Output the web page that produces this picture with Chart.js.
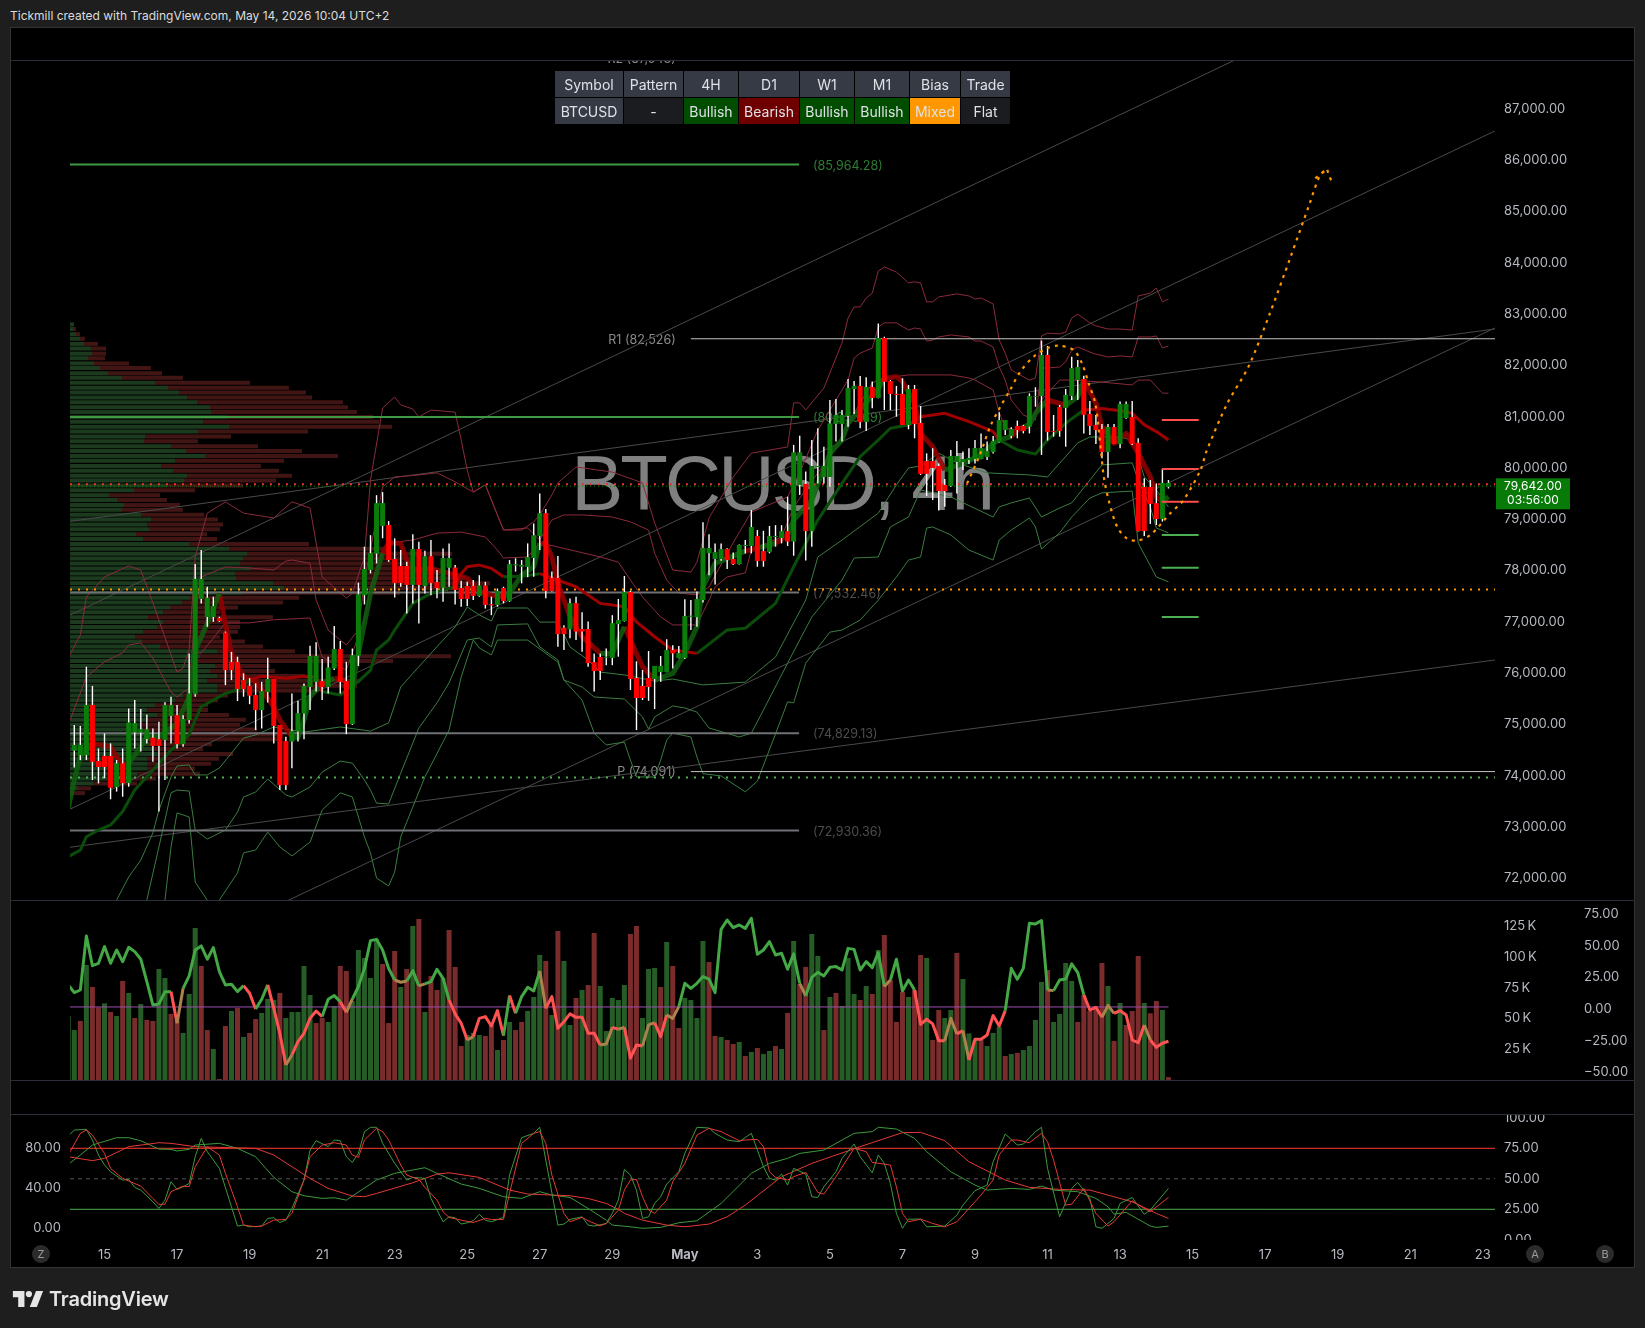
<!DOCTYPE html>
<html>
<head>
<meta charset="utf-8">
<title>BTCUSD 4h</title>
<script src="https://cdn.jsdelivr.net/npm/chart.js@4/dist/chart.umd.js"></script>
<style>
  html, body { margin: 0; padding: 0; background: #1e1e1e; width: 1645px; height: 1328px; overflow: hidden; font-family: Inter, sans-serif; }
  #header { position: absolute; left: 10px; top: 8px; font-size: 12px; line-height: 16px; color: #dcdcdc; }
  #frame { position: absolute; left: 10px; top: 27px; width: 1625px; height: 1241px; background: #000; box-sizing: border-box; border: 1px solid #333; }
  canvas { position: absolute; left: 11px; }
  .sep { position: absolute; left: 11px; width: 1624px; height: 1px; background: #2a2e39; }
  #summary { position: absolute; left: 554px; top: 70px; border-spacing: 1px; border-collapse: separate; font-size: 14px; color: #dfe1e6; text-align: center; }
  #summary td { height: 26px; padding: 0; }
  .badge { position: absolute; top: 1245px; width: 18px; height: 18px; border-radius: 50%; background: #2b2b2b; color: #9a9a9a; font-size: 11px; line-height: 18px; text-align: center; }
  #logo { position: absolute; left: 12px; top: 1287px; display: flex; align-items: center; color: #e6e6e6; font-size: 20px; font-weight: 600; letter-spacing: -0.2px; }
  #logo svg { width: 32px; height: 22px; margin-right: 5px; }
</style>
</head>
<body>
<div id="header">Tickmill created with TradingView.com, May 14, 2026 10:04 UTC+2</div>
<div id="frame"></div>
<canvas id="mainChart" width="1624" height="840" style="top:60px"></canvas>
<canvas id="volumeChart" width="1624" height="180" style="top:900px"></canvas>
<canvas id="stochChart" width="1624" height="126" style="top:1114px"></canvas>
<canvas id="timeChart" width="1624" height="28" style="top:1240px"></canvas>
<div class="sep" style="top:60px"></div>
<div class="sep" style="top:900px"></div>
<div class="sep" style="top:1080px"></div>
<div class="sep" style="top:1114px"></div>
<table id="summary"></table>
<div class="badge" style="left:32px">Z</div>
<div class="badge" style="left:1526px">A</div>
<div class="badge" style="left:1596px">B</div>
<div id="logo"><svg viewBox="0 0 36 24" fill="#e6e6e6"><path d="M14 3H1v7h6v11h7V3Zm14 18h-8l7-18h8l-7 18Zm-9-11a3.500 3.500 0 1 0 0-7 3.500 3.500 0 0 0 0 7Z"/></svg>TradingView</div>

<script>
const X_MIN = -0.71;
const X_MAX = 235.02;
const FONT = 'Inter';

const opens = [74450,74360,74360,75340,74245,74345,74345,73740,74200,73815,74805,74800,74675,74700,74670,74655,75125,75140,74575,75045,75550,77405,77055,77055,77035,76750,76175,76175,75825,75710,75535,75240,75590,75845,74950,74635,74625,74820,75170,75690,75790,75805,75690,76050,76430,75805,74965,76300,77480,77970,78290,78830,78850,78185,78050,78050,77680,78380,77660,78240,77735,77625,78015,78020,77620,77660,77660,77465,77670,77305,77290,77620,77365,78060,78035,78030,78205,78635,79080,77815,77815,76845,76815,77325,76820,76820,76175,76275,76260,76255,76915,76975,77540,75865,75710,75865,75845,75980,75980,76410,76255,76255,77060,77050,77385,78300,78185,78185,78380,78185,78085,78440,78440,78635,78340,78320,78615,78595,78730,78525,79630,79650,78730,79980,79785,79785,80820,80820,80975,81500,81560,80855,81540,81325,82495,81655,81405,81405,80800,81500,80840,80095,80095,80000,79630,79610,80075,80075,80115,80135,80135,80175,80270,80465,80700,80585,80780,80780,80765,81350,81365,82165,80680,81150,81130,81365,81675,81695,81015,80800,80720,80270,80760,80430,80935,80955,80450,79590,79590,79275,78965,79590];
const closes = [74560,74560,75340,74230,74130,74130,73725,74200,73815,75000,74985,74865,74865,74540,74540,75340,75340,74575,75065,75565,77795,77795,77430,77270,76975,76020,76020,75650,75650,75520,75240,75610,75845,74930,73775,73775,74830,75180,75710,76295,76295,75690,76070,76430,75790,74965,76310,77500,77990,78300,79275,79275,78165,77715,77715,77680,78380,77680,78240,77715,77620,78205,78205,77580,77405,77405,77465,77670,77290,77280,77560,77365,78085,78085,78070,78225,78650,79080,77560,77560,76720,76720,77325,76770,76770,76155,76000,76000,76280,76935,76995,77540,75845,75475,75475,75690,76100,76100,76410,76345,76350,77075,77080,77405,78400,78400,78320,78380,78165,78085,78460,78460,78810,78145,78145,78635,78635,78730,78525,80265,80265,78730,80000,80000,80000,80830,80995,80995,81520,81560,80855,81540,81325,82495,81640,81405,81385,80800,81500,80820,79845,79845,79960,79510,79510,80195,80195,80135,80155,80350,80350,80290,80485,80895,80895,80720,80700,80680,81365,81365,82165,80660,80660,80680,81385,81910,81930,80995,80780,80700,80270,80760,80430,81210,81210,80430,78730,78730,79260,78965,79670,79670];
const highs = [74950,74930,76085,75710,74490,74785,74590,74265,74490,75270,75435,75260,75155,74880,75010,75390,75500,75340,75140,76345,78090,78360,77645,77450,77060,76770,76375,76280,75955,75860,75760,75790,76260,75845,74950,74720,75565,75420,75760,76495,76560,76235,76280,76880,76585,76180,76440,77725,78425,78650,79430,79490,78925,78590,78360,78130,78670,78520,78345,78555,77970,78390,78490,78070,77760,77740,77775,77870,77740,77450,77610,77645,78165,78200,78165,78490,78880,79465,79160,77940,78245,76895,77415,77450,77145,76965,76345,76345,76440,77090,77405,77855,77565,76190,76020,76390,76100,76295,76620,76505,76490,77400,77385,77550,78900,78670,78490,78490,78395,78310,78470,78555,79140,78750,78735,78830,78845,78845,79400,80410,80590,79890,80505,80735,80375,81285,81305,81090,81695,81655,81755,81730,81645,82780,82520,81675,81560,81710,81580,81580,81170,80245,80345,80050,79745,80310,80485,80280,80345,80505,80635,80475,80585,81045,80895,80755,80885,80800,81415,81535,82445,82340,80995,81190,81500,82130,82065,81760,81265,80995,80820,80820,80820,81255,81255,81265,80540,79760,79725,79660,79940,79725];
const lows = [74120,74265,74265,73875,73810,73910,73500,73650,73550,73745,74490,74430,74590,74230,73260,73875,74590,74490,74525,74980,75500,77320,76865,76960,76960,75725,75825,75415,75500,75355,74850,74880,75385,74590,73680,73680,74105,74625,74670,75240,75600,75435,75565,76020,75565,74770,74950,76100,77300,77905,78100,78590,78130,77435,77645,77125,77320,76930,77515,77480,77420,77350,77645,77300,77255,77270,77385,77450,77220,77090,77255,77320,77350,77940,77710,77830,77840,78360,77420,77550,76475,76410,76640,76605,76375,76085,75600,75825,76115,76115,76280,76965,75630,74850,75435,75420,75260,75790,75975,76050,76250,76235,76800,76865,77335,77870,77690,78150,77990,78070,78080,78295,78295,78035,78035,78295,78425,78490,78440,78250,79435,78155,78425,79660,79660,79595,80475,80475,80765,81015,80735,80680,81125,81320,81090,81090,80960,80800,80715,80540,79825,79415,79335,79130,79205,79595,79465,79920,80040,80050,80130,80115,80245,80455,80605,80540,80540,80635,80635,81155,80215,80495,80570,80570,80375,81285,81285,80635,80605,80430,80150,79770,80430,80345,80920,80410,78720,78635,78870,78850,78915,79560];

const upperBand3 = [[-1,76255],[1,76705],[2,77445],[5,77835],[9,78050],[11,77970],[13,77330],[17,75980],[18,76060],[19,76410],[20,78225],[22,79080],[25,79300],[28,79080],[33,78985],[36,79300],[39,79180],[41,77835],[45,77425],[46,77520],[48,78225],[49,79725],[51,81130],[53,81345],[54,81190],[56,81110],[57,80955],[59,81090],[63,81050],[64,80505],[65,79920],[66,79490],[68,79630],[71,78750],[74,78750],[76,78910],[77,79045],[79,79435],[80,79670],[83,79980],[89,79880],[94,79670],[96,78890],[99,77970],[102,77930],[103,78125],[105,78985],[109,79785],[112,80250],[118,80370],[119,81230],[120,81230],[121,81090],[124,81520],[127,82400],[128,82885],[129,83100],[130,83100],[131,83275],[132,83370],[133,83800],[134,83880],[136,83780],[138,83570],[139,83590],[140,83570],[141,83200],[142,83200],[143,83295],[146,83355],[148,83315],[149,83255],[150,83275],[152,83160],[153,82455],[154,82200],[155,81870],[158,81675],[159,81715],[160,82535],[161,82590],[163,82575],[164,82610],[165,82885],[166,82960],[168,82790],[169,82730],[171,82670],[173,82670],[175,82650],[176,83315],[178,83370],[179,83470],[180,83200],[181,83255]];
const upperBand2 = [[-1,74950],[2,75885],[5,76180],[8,76355],[9,76510],[11,76550],[13,76255],[16,75590],[17,75495],[19,75670],[20,77135],[21,77835],[25,78030],[29,78010],[33,77970],[35,78145],[36,78165],[39,78105],[40,77385],[42,76800],[45,76510],[47,76800],[48,77775],[51,79590],[53,79785],[57,79825],[60,79865],[63,79690],[66,79490],[68,79630],[71,78750],[75,78790],[77,78555],[79,78945],[81,79045],[84,79045],[89,79005],[92,78910],[95,78750],[96,78300],[98,77775],[100,77520],[103,77485],[105,77640],[108,78300],[111,78905],[112,79100],[118,79395],[120,79865],[123,80700],[128,81675],[129,82105],[130,82200],[132,82300],[133,82710],[134,82790],[136,82790],[138,82650],[139,82690],[140,82670],[141,82435],[142,82455],[143,82515],[145,82555],[148,82515],[149,82435],[150,82435],[152,82320],[153,81930],[154,81675],[155,81285],[157,80995],[159,80895],[160,81910],[161,81910],[163,81930],[164,82030],[165,82260],[166,82320],[168,82220],[169,82180],[171,82125],[173,82145],[175,82125],[176,82515],[178,82515],[179,82535],[180,82300],[181,82340]];
const upperBand1 = [[19,75670],[20,76360],[21,76350],[25,76940],[29,76940],[33,77000],[39,77035],[41,76275],[45,76020],[46,76350],[48,77000],[49,77640],[51,78325],[53,78515],[56,78555],[60,78690],[64,78710],[68,78615],[70,78360],[71,78205],[75,78225],[77,78500],[80,78420],[87,78225],[90,78125],[92,77775],[94,77445],[97,77055],[99,76900],[103,76900],[105,77385],[106,77640],[108,77835],[111,77915],[112,78360],[117,78615],[119,79200],[123,79865],[127,80505],[129,81030],[132,81620],[134,81715],[138,81775],[141,81775],[145,81775],[148,81715],[149,81675],[152,81480],[153,81050],[154,80740],[156,80700],[158,80740],[159,81090],[160,81285],[163,81675],[165,81675],[170,81635],[175,81580],[176,81675],[178,81675],[180,81420],[181,81420]];
const lowerBand1 = [[7,71535],[9,71985],[11,72315],[13,72845],[14,73290],[16,73935],[17,74150],[19,74170],[20,73975],[22,73975],[24,74110],[26,74400],[28,74695],[30,74755],[33,74910],[36,74850],[38,74810],[44,74910],[49,74830],[52,74990],[54,75690],[58,76215],[61,76605],[63,76860],[65,77250],[67,77095],[69,76975],[70,77230],[75,77230],[77,76955],[80,76955],[82,76470],[85,76215],[87,75980],[91,75925],[96,75805],[99,75845],[104,75730],[111,75785],[116,76275],[121,77385],[123,78225],[127,78555],[133,79080],[136,79630],[138,79960],[140,80000],[143,80250],[146,80060],[151,79865],[158,79825],[161,79785],[162,79920],[166,80450],[168,80565],[173,80565],[175,80505],[176,80175],[177,79785],[179,79530],[181,79200]];
const lowerBand2 = [[12,71535],[14,72570],[16,73625],[17,73680],[19,73660],[20,72900],[22,72725],[25,72900],[27,73250],[28,73545],[30,73640],[32,73895],[35,73585],[36,73545],[39,73740],[41,74030],[44,74245],[46,74205],[48,73875],[49,73680],[50,73425],[52,73410],[54,74010],[57,74890],[60,75380],[62,75770],[65,76605],[67,76645],[69,76470],[70,76900],[75,76920],[77,76470],[80,76215],[81,75825],[84,75690],[86,75495],[91,75455],[94,75105],[95,74870],[96,75105],[99,75320],[101,75280],[103,75200],[105,74890],[110,74715],[112,74790],[114,75240],[118,76155],[122,77055],[127,77775],[129,78205],[133,78225],[135,78810],[138,79005],[140,79530],[145,79395],[152,79005],[153,79200],[155,79280],[158,79375],[160,79005],[163,79180],[165,79280],[170,80020],[175,80060],[176,79725],[178,79200],[179,78790],[181,78695]];
const lowerBand3 = [[15,71535],[16,72570],[17,73235],[19,73155],[20,71885],[22,71535],[23,71245],[24,71535],[27,72065],[28,72455],[30,72510],[32,72860],[34,72570],[36,72395],[39,72665],[41,73290],[44,73625],[46,73545],[48,72765],[49,72455],[50,71965],[52,71810],[53,72080],[54,72765],[58,73935],[62,74850],[64,75885],[66,76605],[67,76450],[69,76315],[70,76605],[75,76605],[80,76175],[81,75825],[84,75435],[86,74790],[88,74560],[91,74615],[92,74265],[93,73935],[96,73935],[97,74265],[98,74655],[99,74790],[102,74715],[103,74325],[104,74000],[107,73955],[111,73645],[113,73855],[116,74775],[118,75400],[119,75380],[121,76155],[125,76760],[127,76800],[130,76995],[133,77385],[136,77835],[138,78165],[140,78225],[141,78790],[142,78810],[145,78655],[148,78360],[152,78165],[153,78555],[155,78750],[158,78985],[159,78810],[160,78380],[163,78695],[165,79005],[168,79375],[170,79475],[175,79510],[176,78495],[179,77835],[181,77740]];

const slowMaUp = [[-1,72380],[1,72510],[2,72770],[4,72900],[6,73000],[8,73260],[10,73680],[13,74070],[16,74460],[19,74755],[20,75045],[21,75305],[25,75565],[27,75630],[29,75830],[29,null],[41,75600],[44,75534],[45,75630],[47,75794],[49,76020],[50,76410],[52,76606],[53,76800],[56,77320],[59,77515],[63,77645],[63,null],[71,77840],[74,77850],[77,77900],[77,null],[103,76345],[108,76800],[111,76835],[116,77320],[119,78035],[123,78945],[127,79660],[130,80180],[133,80506],[135,80735],[138,80800],[138,null],[153,80506],[156,80311],[159,80233],[161,80506],[164,80831],[167,81091]];
const slowMaDown = [[29,75830],[31,75900],[35,75860],[38,75900],[40,75880],[41,75600],[41,null],[63,77645],[64,77900],[65,78035],[67,78067],[69,78002],[71,77840],[71,null],[77,77900],[80,77775],[83,77645],[87,77320],[91,77255],[93,76960],[96,76670],[99,76410],[103,76345],[103,null],[138,80800],[140,80960],[144,81026],[148,80863],[152,80668],[153,80506],[153,null],[167,81091],[170,81120],[173,81078],[175,81026],[177,80800],[179,80670],[181,80506]];
const fastMaUp = [[-1,73322],[0,73875],[1,74330],[3,74590],[3,null],[9,74200],[11,74525],[12,74720],[14,74720],[17,74980],[19,75500],[20,76400],[22,76930],[24,77515],[24,null],[36,74720],[37,74700],[38,75045],[39,75500],[41,75760],[43,75860],[43,null],[46,75700],[47,76345],[49,77515],[51,78295],[51,null],[71,77450],[72,77515],[74,77870],[76,78035],[77,78490],[77,null],[87,76345],[89,76345],[91,76865],[91,null],[96,75825],[99,75955],[101,76345],[103,76865],[104,77645],[106,78100],[111,78340],[111,null],[113,78400],[116,78491],[116,null],[118,78653],[119,78946],[122,79336],[125,80246],[127,80506],[128,80831],[133,81500],[134,81708],[134,null],[144,79921],[147,80050],[150,80211],[152,80441],[153,80506],[155,80571],[155,null],[157,80766],[158,80800],[159,81026],[161,81286],[161,null],[164,81180],[166,81350],[167,81676],[167,null],[180,79300],[181,79400]];
const fastMaDown = [[3,74590],[6,74525],[7,74330],[8,74200],[9,74200],[9,null],[24,77515],[25,76930],[26,76345],[28,75890],[30,75790],[31,75630],[33,75305],[34,75045],[36,74720],[36,null],[43,75860],[45,75800],[46,75700],[46,null],[51,78295],[52,78500],[54,78490],[55,78165],[56,77970],[59,78000],[62,77905],[64,77840],[65,77810],[67,77550],[69,77480],[71,77450],[71,null],[77,78490],[78,78490],[79,78230],[80,77710],[82,77060],[84,76670],[87,76345],[87,null],[91,76865],[94,76085],[96,75825],[96,null],[111,78340],[113,78400],[113,null],[116,78491],[118,78653],[118,null],[134,81708],[136,81741],[137,81643],[139,81221],[140,80636],[142,80376],[144,79921],[144,null],[155,80571],[156,80700],[157,80766],[157,null],[161,81286],[163,81221],[164,81180],[164,null],[167,81676],[169,81221],[170,80766],[172,80441],[174,80636],[175,80441],[176,80246],[178,79791],[179,79400],[180,79300]];

const profileRows = [82760,82670,82570,82480,82380,82290,82190,82100,82000,81910,81810,81720,81620,81525,81430,81335,81240,81145,81050,80955,80860,80765,80670,80575,80480,80385,80290,80195,80100,80000,79905,79810,79715,79620,79525,79430,79335,79240,79145,79050,78955,78860,78765,78670,78575,78480,78385,78290,78195,78100,78000,77905,77810,77715,77620,77525,77430,77335,77240,77145,77050,76955,76860,76765,76670,76575,76480,76385,76290,76195,76100,76000,75905,75810,75715,75620,75525,75430,75335,75240,75145,75050,74955,74860,74765,74670,74575,74480,74385,74290,74195,74100,74000,73905,73810,73715,73620];
const profileBuy = [4,3,6,10,14,21,22,18,24,30,38,52,85,98,109,117,127,140,141,157,133,159,128,75,74,101,116,135,105,91,103,117,114,97,64,39,47,54,52,71,81,77,79,66,73,119,159,177,173,170,181,165,166,203,214,172,120,112,100,93,78,93,87,73,65,72,90,147,130,127,145,140,147,137,147,147,113,105,85,77,87,77,70,73,90,80,83,83,87,77,77,77,67,63,23,8,3];
const profileTotal = [4,6,10,15,28,36,36,35,59,81,92,113,180,219,236,242,273,278,287,303,309,322,238,161,128,188,232,268,214,191,209,222,206,173,125,90,97,110,113,134,148,153,150,137,147,239,320,382,340,345,350,370,395,420,410,330,229,213,168,150,203,170,170,168,150,175,193,225,381,323,200,205,235,290,287,248,158,148,138,138,159,176,170,187,213,210,142,133,163,149,141,125,130,86,67,21,15];

const trendLines = [
    [[-1,77075],[192,87916]],
    [[-1,78915],[235,82671]],
    [[-1,73290],[235,86532]],
    [[32,71340],[235,82690]],
    [[-1,72560],[235,76216]]
];
const forecastPath = [[147.7,79660],[149.9,80246],[151.5,80766],[153.2,81156],[154.8,81481],[156.5,81840],[158.7,82131],[160.9,82293],[162.8,82345],[165.3,82261],[166.7,82001],[167.8,81611],[168.9,81221],[169.7,80441],[170.3,79791],[171.1,79336],[172.5,78816],[174.1,78588],[175.8,78543],[178,78653],[181.3,79076],[183.5,79336],[186.3,79921],[187.3,80290],[190.7,81210],[194.2,81927],[197.7,82950],[201.2,84075],[204.3,85097],[206,85650],[207.2,85793]];
const forecastArrow = [[205.3,85609],[207.2,85793],[208.1,85507]];

const priceTicks = [72000,73000,74000,75000,76000,77000,78000,79000,80000,81000,82000,83000,84000,85000,86000,87000];
const shortLevelsRed = [80896,79940,79304];
const shortLevelsGreen = [78653,78016,77054];
const lastPrice = 79642;

const volumes = [52,40.6,48,93.5,75.6,59,62.3,55.3,52,80.5,70.7,50.4,61.8,48.8,48,90.2,82.9,53.7,48.8,38.2,69.9,123.6,92.7,40.6,25.2,0.8,43.9,56.1,58.5,35,38.2,49.6,54.5,65.9,65,70.7,50.4,55.3,55.3,92.7,69.1,46.3,50.4,47.2,60.2,92.7,88.6,64.2,105.7,99.2,82.9,114.6,94.3,46.3,104.9,75.6,90.2,125.2,130.9,55.3,84.6,73.2,82.9,122,91.9,27.6,36.6,38.2,36.6,35.8,44.7,24.4,32.5,47.2,40.6,47.2,56.1,67.5,101.6,96.7,52.8,121.1,96.7,44.7,66.7,73.2,77.2,119.5,76.4,39.8,66.7,65,77.2,118.7,125.2,50.4,90.2,91.1,75.6,112.2,92.7,42.3,66.7,65,50.4,113,95.9,35.8,35,32.5,29.3,30.9,19.5,22.8,26,21.1,23.6,27.6,25.2,54.5,113,78,91.9,118.7,100.8,40.6,67.5,70.7,60.2,99.2,69.9,65,76.4,69.9,105.7,117.9,81.3,47.2,71.5,67.5,73.2,101.6,99.2,32.5,56.9,50.4,56.9,103.3,82.1,37.9,32.5,32.5,27.6,38.2,43.1,19.5,21.1,22,24.4,27.6,48.8,79.7,89.4,47.2,53.7,95.1,80.5,47.2,69.1,56.1,59.6,95.1,76.4,31.7,62.6,44.7,56.1,100.8,62.6,54.2,64.2,56.9,2.4];
const volumeSides = 'GGRGRRGRGRGRGRRGGRRGGGRRGRRGRGRRGGGRGGGGGRRGGRRGGGGGRRRGRGRGRRGRRRGGGRRGRGRRGGGRGRGGRGRRGGGGGRRGGGRGRRGGGGRRGRRGRGRGGRGRGRRGGRGRGGGRGRGRRRRGRRGRRGGRGGGRGGGRGRGGGGRGGGGRRRRRGRGRRRGRRGR'.split('');
const volumeTicks = [25,50,75,100,125];

const oscillator = [17.4,11.3,13.4,56.1,32.6,34.5,47.7,34.5,45,35.8,47.1,43.7,37.7,20,1.6,2.4,12.1,12.1,-12.9,14.7,24.5,45,48.2,37.7,46.9,27.9,17.4,17.9,12.1,16.9,10.8,-1.6,6.1,17.4,-1.1,-20.8,-45.8,-37.9,-27.4,-20.8,-9,-3.2,-7.6,6.1,9,4.2,-4.2,6.3,16.1,30.5,52.4,53.4,45,30.5,21.3,19.5,20.5,28.7,16.6,18.2,20,29.8,22.6,5.5,-5.5,-12.9,-26.1,-23.4,-9,-7.6,-15,-2.9,-22.6,9,-5,8.2,15.5,12.6,28.4,-1.1,8.2,-16.9,-11.6,-5.5,-8.2,-8.2,-20.8,-20.8,-30,-29.2,-16.1,-17.6,-16.1,-40.5,-30,-30.8,-14.2,-12.4,-23.4,-6.3,-9,0.3,18.7,14.7,18.7,24,21.9,11.3,61.3,68.7,62.7,64.8,62.1,70,41.6,45,51.6,41.1,42.4,29.8,41.9,18.7,8.7,23.4,27.4,24.5,31.3,31.9,29.2,46.3,45.5,29.2,35.8,31.1,42.9,16.1,21.3,37.7,12.6,21.3,13.4,-13.7,-9.7,-13.4,-26.6,-26.6,-9,-21.3,-18.7,-41.9,-25.5,-25.5,-22.1,-6.8,-15,-2.9,30.5,21.9,30.5,66.1,65.6,68.2,13.4,12.9,21.3,22.1,34,27.1,9.5,-2.4,-0.3,-8.2,1.3,-5,-2.9,-6.3,-26.1,-28.2,-14.2,-26.1,-31.9,-28.7,-27.1];
const oscillatorFalling = [[16,17],[28,30],[32,41],[44,45],[62,71],[72,73],[77,100],[139,154],[167,181]];
const oscillatorFaded = [17,35,45,53,54,57,65,77,87,88,90,94,95,98,99,120,134,144,145,147,161,170,171,177];
const oscillatorTicks = [-50,-25,0,25,50,75];

const stochFast = [[-1,91.5],[0,97.5],[2,98.2],[3,87.6],[4,72.7],[5,62.8],[6,56.1],[8,47.9],[9,48.5],[10,40.6],[11,37.9],[13,26.3],[14,19.7],[15,28],[16,46.2],[17,38.6],[18,41.2],[19,44.5],[20,71],[21,89.2],[22,76],[24,59.4],[26,21.4],[27,2.2],[28,3.2],[29,1.5],[31,2.2],[32,9.8],[33,10.5],[34,5.8],[35,8.1],[36,19.7],[38,47.9],[39,77.6],[40,86.9],[42,81],[43,87.6],[44,86.9],[45,71],[46,65.4],[47,74.3],[48,95.9],[49,100.2],[50,100.2],[51,84.3],[53,64.4],[55,47.9],[56,50.5],[58,49.5],[59,29.7],[61,6.5],[62,11.4],[63,10.5],[64,4.2],[65,5.5],[66,7.5],[67,13.8],[68,8.1],[69,6.5],[71,10.8],[72,52.8],[74,89.9],[76,94.2],[77,100.2],[78,67.7],[80,3.2],[81,4.2],[82,8.8],[84,11.4],[85,3.2],[86,2.2],[88,4.8],[89,14.8],[90,28],[91,58.5],[92,52.8],[93,37.9],[94,9.8],[95,11.4],[96,24.7],[97,31.3],[98,43.9],[100,56.1],[101,74.3],[103,100.2],[105,99.5],[106,94.2],[108,87.6],[110,85.9],[112,94.2],[113,77.6],[114,61.1],[115,49.5],[116,47.9],[117,53.8],[118,42.9],[119,59.4],[121,53.8],[122,31.3],[123,30.6],[124,41.2],[126,56.1],[127,69.4],[129,83.6],[130,71],[132,55.1],[133,72.7],[134,64.4],[135,44.5],[136,14.8],[137,0],[138,9.1],[140,9.1],[141,1.5],[144,2.2],[146,13.1],[147,23],[149,37.3],[151,42.9],[152,66],[154,93.5],[156,82.6],[157,83.6],[159,95.9],[160,100.2],[161,59.4],[163,11.4],[165,39.6],[166,45.5],[168,29.7],[169,1.5],[170,0],[172,9.8],[173,24.7],[175,30.6],[177,13.8],[178,18.1],[181,39.6]];
const stochFastSignal = [[-1,72.7],[1,94.2],[2,97.5],[3,92.5],[5,74.3],[6,59.4],[8,49.5],[11,41.9],[13,29.6],[14,23.7],[15,24],[16,36.3],[18,41.9],[19,41.2],[20,61.1],[22,81],[24,72.7],[25,54.5],[27,21.4],[28,3.2],[30,1.5],[31,2.2],[33,8.1],[35,8.8],[36,14.8],[38,47.9],[39,71],[41,82.6],[43,84.9],[45,82.6],[46,72.7],[47,70.4],[48,87.6],[50,99.2],[51,95.9],[52,87.6],[54,62.8],[55,52.8],[57,48.5],[58,40.6],[60,28],[61,16.4],[62,10.8],[64,8.1],[66,5.8],[68,9.8],[69,8.8],[71,8.8],[72,34.6],[74,84.3],[76,94.2],[77,95.9],[78,84.3],[79,52.8],[81,14.8],[82,6.5],[84,10.8],[85,7.5],[87,2.5],[88,4.8],[90,18],[91,37.9],[92,47.9],[93,48.5],[94,31.3],[95,18.1],[96,14.8],[98,28],[99,46.2],[101,64.4],[103,92.5],[105,99.2],[107,95.9],[110,86.9],[111,87.6],[113,88.2],[114,81],[115,56.1],[116,50.5],[118,47.9],[119,51.2],[121,55.5],[123,35.6],[124,34],[126,51.2],[129,79.3],[131,76],[132,65.4],[135,62.8],[136,41.2],[137,14.8],[138,6.5],[140,9.1],[142,4.8],[144,1.5],[146,6.5],[148,19.7],[150,33],[152,47.9],[153,72.7],[155,87.6],[156,87.6],[158,84.9],[160,94.2],[161,85.9],[162,67.7],[164,23],[165,24],[167,39.6],[169,14.8],[171,2.2],[172,6.5],[175,27.3],[177,19.7],[178,16.4],[181,30.6]];
const stochSlow = [[-1,63.4],[1,72.7],[3,82.6],[7,89.9],[9,89.9],[11,86.9],[14,78.6],[16,78.3],[17,76.7],[19,78.3],[20,82.6],[24,84.3],[27,79.3],[30,71],[33,50.5],[36,36.3],[38,32.3],[41,29.7],[43,30.3],[45,28],[50,47.9],[53,54.5],[58,60.1],[60,54.5],[64,43.9],[67,39.6],[71,31.3],[74,29.7],[77,36.3],[79,33],[82,30.6],[85,19.7],[88,8.1],[89,3.2],[92,1.5],[94,0],[97,0.9],[100,5.5],[103,7.5],[107,24.7],[112,54.5],[115,64.4],[118,69.4],[120,74.3],[124,77.6],[129,94.2],[132,95.9],[133,100.2],[136,98.5],[139,89.2],[141,76],[145,56.1],[149,42.9],[151,37.9],[155,39.6],[158,38.6],[160,41.9],[162,37.9],[166,36.3],[169,29.7],[171,21.4],[172,14.1],[174,15.8],[178,2.2],[179,0.9],[181,2.2]];
const stochSlowSignal = [[-1,71],[3,67.1],[5,69.4],[9,81],[14,84.9],[16,84.3],[20,81],[24,80.3],[30,79.3],[33,72.7],[39,49.5],[42,39.6],[46,32],[48,31.3],[50,34.6],[56,45.2],[60,53.8],[62,55.1],[67,50.5],[72,38],[75,34],[82,32.3],[85,29.6],[88,24.7],[90,18.7],[91,14.8],[94,8.1],[98,3.2],[101,1.5],[105,4.2],[108,11.4],[111,23],[117,51.2],[122,64.4],[130,81],[137,94.9],[140,95.2],[144,86.9],[148,66],[154,47.9],[158,40.6],[163,38.6],[168,37.9],[170,34.6],[175,26.3],[179,14.8],[181,9.8]];
const stochLeftTicks = [0,40,80];
const stochRightTicks = [0,25,50,75,100];

const dateTickIndexes = [5,17,29,41,53,65,77,89,101,113,125,137,149,161,173,185,197,209,221,233];
const dateTickLabels = ['15','17','19','21','23','25','27','29','May','3','5','7','9','11','13','15','17','19','21','23'];

const tableHeader = ['Symbol','Pattern','4H','D1','W1','M1','Bias','Trade'];
const tableValues = ['BTCUSD','-','Bullish','Bearish','Bullish','Bullish','Mixed','Flat'];
const tableFills = ['#363a45','#1a1c20','#004d00','#6f0000','#004d00','#004d00','#ff9800','#1a1c20'];
const tableWidths = [68,59,54,60,54,54,50,49];

const supportResistance = [85880, 80955, 77532, 74790, 72890];
const levelLabels = [
    ['(85,964.28)', 85880, '#2f7d32'],
    ['(80,955.69)', 80955, '#2f7d32'],
    ['(77,532.46)', 77532, '#4d4d4d'],
    ['(74,829.13)', 74790, '#4d4d4d'],
    ['(72,930.36)', 72890, '#4d4d4d']
];
const pivotLevels = [82480, 74040];
const pivotLabels = [
    ['R2 (87,543)', 87960],
    ['R1 (82,526)', 82480],
    ['P (74,091)', 74040]
];

const CANDLE_UP = '#0a7d0a';
const CANDLE_DOWN = '#ff0000';
const BAND_RED = '#8a2a3a';
const BAND_GREEN = '#3a7d40';

Chart.defaults.font.family = FONT;
Chart.defaults.animation = false;
Chart.defaults.events = [];
Chart.defaults.plugins.legend.display = false;
Chart.defaults.plugins.tooltip.enabled = false;

function toPoints(pairs) {
    return pairs.map(p => ({ x: p[0], y: p[1] }));
}

function lineSet(pairs, color, width, extra) {
    return Object.assign({
        type: 'line',
        data: toPoints(pairs),
        borderColor: color,
        borderWidth: width,
        pointRadius: 0,
        tension: 0,
        borderJoinStyle: 'round',
        xAxisID: 'x',
        yAxisID: 'y'
    }, extra || {});
}

function barSet(points, color, thickness, extra) {
    return Object.assign({
        type: 'bar',
        data: points,
        backgroundColor: color,
        borderWidth: 0,
        grouped: false,
        inflateAmount: 0,
        barPercentage: 1,
        categoryPercentage: 1,
        maxBarThickness: thickness,
        xAxisID: 'x',
        yAxisID: 'y'
    }, extra || {});
}

function indexAxis() {
    return { type: 'linear', min: X_MIN, max: X_MAX, offset: false, display: false };
}

function fixedAxis(position, width, min, max, ticks, format, weight, labelShift) {
    return {
        type: 'linear',
        position: position,
        min: min,
        max: max,
        offset: false,
        weight: weight || 0,
        grid: { display: false, drawTicks: false },
        border: { display: false },
        afterBuildTicks: axis => { axis.ticks = ticks.map(v => ({ value: v })); },
        afterFit: axis => {
            axis.width = width;
            axis.paddingTop = 0;
            axis.paddingBottom = 0;
        },
        ticks: {
            color: '#b6b9c1',
            font: { size: 13 },
            padding: 9,
            crossAlign: 'near',
            autoSkip: false,
            labelOffset: labelShift || 0,
            callback: format
        }
    };
}

function priceText(v) {
    return v.toLocaleString('en-US', { minimumFractionDigits: 2, maximumFractionDigits: 2 });
}

function signedText(v) {
    return (v < 0 ? '\u2212' : '') + Math.abs(v).toFixed(2);
}

const mainOverlay = {
    id: 'mainOverlay',
    beforeDatasetsDraw(chart) {
        const { ctx, scales } = chart;
        const y = scales.y;
        ctx.save();
        ctx.fillStyle = '#808080';
        ctx.font = '78px "Liberation Sans"';
        ctx.letterSpacing = '-3px';
        ctx.textAlign = 'center';
        ctx.textBaseline = 'alphabetic';
        ctx.fillText('BTCUSD, 4h', scales.x.getPixelForValue(117), y.getPixelForValue(79150));
        ctx.letterSpacing = '0px';

        ctx.font = '12.5px ' + FONT;
        ctx.textBaseline = 'middle';
        ctx.textAlign = 'left';
        levelLabels.forEach(label => {
            ctx.fillStyle = label[2];
            ctx.fillText(label[0], scales.x.getPixelForValue(122.2), y.getPixelForValue(label[1]) + 1.5);
        });
        ctx.textAlign = 'right';
        ctx.fillStyle = '#8a8a8a';
        pivotLabels.forEach(label => {
            ctx.fillText(label[0], scales.x.getPixelForValue(99.5), y.getPixelForValue(label[1]) + 1);
        });
        ctx.restore();
    },
    afterDraw(chart) {
        const { ctx, scales, chartArea } = chart;
        const mid = scales.y.getPixelForValue(lastPrice);
        ctx.save();
        ctx.fillStyle = '#077a07';
        ctx.fillRect(chartArea.right + 1, mid - 6, 74, 31);
        ctx.fillStyle = '#ffffff';
        ctx.font = '12px ' + FONT;
        ctx.textAlign = 'center';
        ctx.textBaseline = 'middle';
        ctx.fillText('79,642.00', chartArea.right + 38, mid + 2);
        ctx.fillText('03:56:00', chartArea.right + 38, mid + 16);
        ctx.restore();
    }
};

function initMainChart() {
    const indexes = opens.map((v, i) => i);
    const bodies = indexes.map(i => ({ x: i, y: [opens[i], closes[i]] }));
    const wicks = indexes.map(i => ({ x: i, y: [lows[i], highs[i]] }));
    const bodyColors = indexes.map(i => closes[i] >= opens[i] ? CANDLE_UP : CANDLE_DOWN);

    const rowsBuy = profileRows.map((p, k) => ({ x: [0, profileBuy[k]], y: p }));
    const rowsSell = profileRows.map((p, k) => ({ x: [profileBuy[k], profileTotal[k]], y: p }));
    const profileOptions = { indexAxis: 'y', xAxisID: 'xProfile', yAxisID: 'yProfile', order: 60 };

    const datasets = [
        barSet(rowsBuy, '#1b3a1e', 4, profileOptions),
        barSet(rowsSell, '#421515', 4, profileOptions)
    ];

    trendLines.forEach(t => datasets.push(lineSet(t, '#4a4a4a', 1, { order: 50 })));

    [upperBand3, upperBand2, upperBand1].forEach(b => datasets.push(lineSet(b, BAND_RED, 1, { order: 40 })));
    [lowerBand1, lowerBand2, lowerBand3].forEach(b => datasets.push(lineSet(b, BAND_GREEN, 1, { order: 40 })));

    supportResistance.forEach((p, k) => {
        datasets.push(lineSet([[X_MIN, p], [119.9, p]], k < 2 ? '#3f9a42' : '#6f7175', 2, { order: 35 }));
    });
    pivotLevels.forEach(p => datasets.push(lineSet([[102, p], [X_MAX, p]], '#c4c4c4', 1, { order: 35 })));

    datasets.push(lineSet([[X_MIN, 79642], [X_MAX, 79642]], '#ff2a2a', 2, { borderDash: [2, 6], order: 30 }));
    datasets.push(lineSet([[X_MIN, 79605], [X_MAX, 79605]], '#0a8a0a', 1, { borderDash: [1, 3], order: 30 }));
    datasets.push(lineSet([[X_MIN, 77590], [X_MAX, 77590]], '#ff9800', 2, { borderDash: [2, 6], order: 30 }));
    datasets.push(lineSet([[X_MIN, 73925], [X_MAX, 73925]], '#4caf50', 2, { borderDash: [2, 6], order: 30 }));

    datasets.push(lineSet(fastMaUp, 'rgba(15,95,15,0.85)', 5, { order: 20 }));
    datasets.push(lineSet(fastMaDown, 'rgba(150,0,0,0.85)', 5, { order: 20 }));
    datasets.push(lineSet(slowMaUp, '#0a4d0a', 3, { order: 19 }));
    datasets.push(lineSet(slowMaDown, '#a00000', 3, { order: 19 }));

    datasets.push(barSet(wicks, '#ffffff', 1.4, { order: 10 }));
    datasets.push(barSet(bodies, bodyColors, 5, { order: 9 }));

    shortLevelsRed.forEach(p => datasets.push(lineSet([[179.9, p], [186, p]], '#ff4d4d', 2, { order: 5 })));
    shortLevelsGreen.forEach(p => datasets.push(lineSet([[179.9, p], [186, p]], '#4caf50', 2, { order: 5 })));

    const dashedOrange = { borderDash: [3, 5], order: 4 };
    datasets.push(lineSet(forecastPath, '#ff9800', 2.2, Object.assign({ tension: 0.3 }, dashedOrange)));
    datasets.push(lineSet(forecastArrow, '#ff9800', 2.2, dashedOrange));

    new Chart(document.getElementById('mainChart'), {
        type: 'line',
        data: { datasets: datasets },
        options: {
            responsive: false,
            layout: { padding: { left: 59 } },
            scales: {
                x: indexAxis(),
                xProfile: { type: 'linear', min: 0, max: 1425, offset: false, display: false },
                y: fixedAxis('right', 140, 71536, 87916, priceTicks, priceText, 0, 2),
                yProfile: { type: 'linear', min: 71536, max: 87916, offset: false, display: false }
            }
        },
        plugins: [mainOverlay]
    });
}

function oscillatorColor(i) {
    if (oscillatorFaded.includes(i)) return '#a9824e';
    return oscillatorFalling.some(r => i >= r[0] && i < r[1]) ? '#ff5252' : '#43a845';
}

function initVolumeChart() {
    const bars = volumes.map((v, k) => ({ x: k - 1, y: v }));
    const colors = volumeSides.map(s => s === 'G' ? '#265c26' : '#7a2b2b');
    const line = oscillator.map((v, k) => [k - 1, v]);

    new Chart(document.getElementById('volumeChart'), {
        type: 'line',
        data: {
            datasets: [
                barSet(bars, colors, 5, { yAxisID: 'yVolume', order: 3 }),
                lineSet([[X_MIN, 0], [181, 0]], '#9c4fb0', 1, { yAxisID: 'yOsc', order: 2 }),
                lineSet(line, '#43a845', 3, {
                    yAxisID: 'yOsc',
                    order: 1,
                    segment: { borderColor: c => oscillatorColor(c.p0DataIndex - 1) }
                })
            ]
        },
        options: {
            responsive: false,
            layout: { padding: { left: 59 } },
            scales: {
                x: indexAxis(),
                yVolume: fixedAxis('right', 80, 0, 146.3, volumeTicks, v => v + '\u2009K', 0),
                yOsc: fixedAxis('right', 60, -57.7, 84.5, oscillatorTicks, signedText, 1, 2)
            }
        }
    });
}

function initStochChart() {
    new Chart(document.getElementById('stochChart'), {
        type: 'line',
        data: {
            datasets: [
                lineSet([[X_MIN, 75], [X_MAX, 75]], '#ff3b30', 1, { yAxisID: 'yRight', order: 5 }),
                lineSet([[X_MIN, 50], [X_MAX, 50]], '#555555', 1, { yAxisID: 'yRight', borderDash: [4, 4], order: 5 }),
                lineSet([[X_MIN, 25], [X_MAX, 25]], '#4caf50', 1, { yAxisID: 'yRight', order: 5 }),
                lineSet(stochSlow, '#3c9a3c', 1, { yAxisID: 'yLeft', order: 4 }),
                lineSet(stochSlowSignal, '#e53935', 1, { yAxisID: 'yLeft', order: 3 }),
                lineSet(stochFast, '#3c9a3c', 1, { yAxisID: 'yLeft', order: 2 }),
                lineSet(stochFastSignal, '#e53935', 1, { yAxisID: 'yLeft', order: 1 })
            ]
        },
        options: {
            responsive: false,
            scales: {
                x: indexAxis(),
                yLeft: fixedAxis('left', 59, -11.6, 113.4, stochLeftTicks, v => v.toFixed(2)),
                yRight: fixedAxis('right', 140, -0.16, 103.1, stochRightTicks, v => v.toFixed(2))
            }
        }
    });
}

function initTimeChart() {
    new Chart(document.getElementById('timeChart'), {
        type: 'line',
        data: { datasets: [] },
        options: {
            responsive: false,
            layout: { padding: { left: 59, right: 140 } },
            scales: {
                x: {
                    type: 'linear',
                    min: X_MIN,
                    max: X_MAX,
                    grid: { display: false, drawTicks: false },
                    border: { display: false },
                    afterBuildTicks: axis => { axis.ticks = dateTickIndexes.map(v => ({ value: v })); },
                    afterFit: axis => { axis.height = 28; },
                    ticks: {
                        color: '#b6b9c1',
                        padding: 7,
                        maxRotation: 0,
                        autoSkip: false,
                        font: c => ({ size: 13, weight: c.index === dateTickLabels.indexOf('May') ? 'bold' : 'normal' }),
                        callback: (v, i) => dateTickLabels[i]
                    }
                },
                y: { display: false }
            }
        }
    });
}

function initTable() {
    const table = document.getElementById('summary');
    const head = table.insertRow();
    const body = table.insertRow();
    tableHeader.forEach((text, i) => {
        const a = head.insertCell();
        a.textContent = text;
        a.style.background = '#363a45';
        a.style.width = tableWidths[i] + 'px';
        const b = body.insertCell();
        b.textContent = tableValues[i];
        b.style.background = tableFills[i];
    });
}

initMainChart();
initVolumeChart();
initStochChart();
initTimeChart();
initTable();
</script>
</body>
</html>
